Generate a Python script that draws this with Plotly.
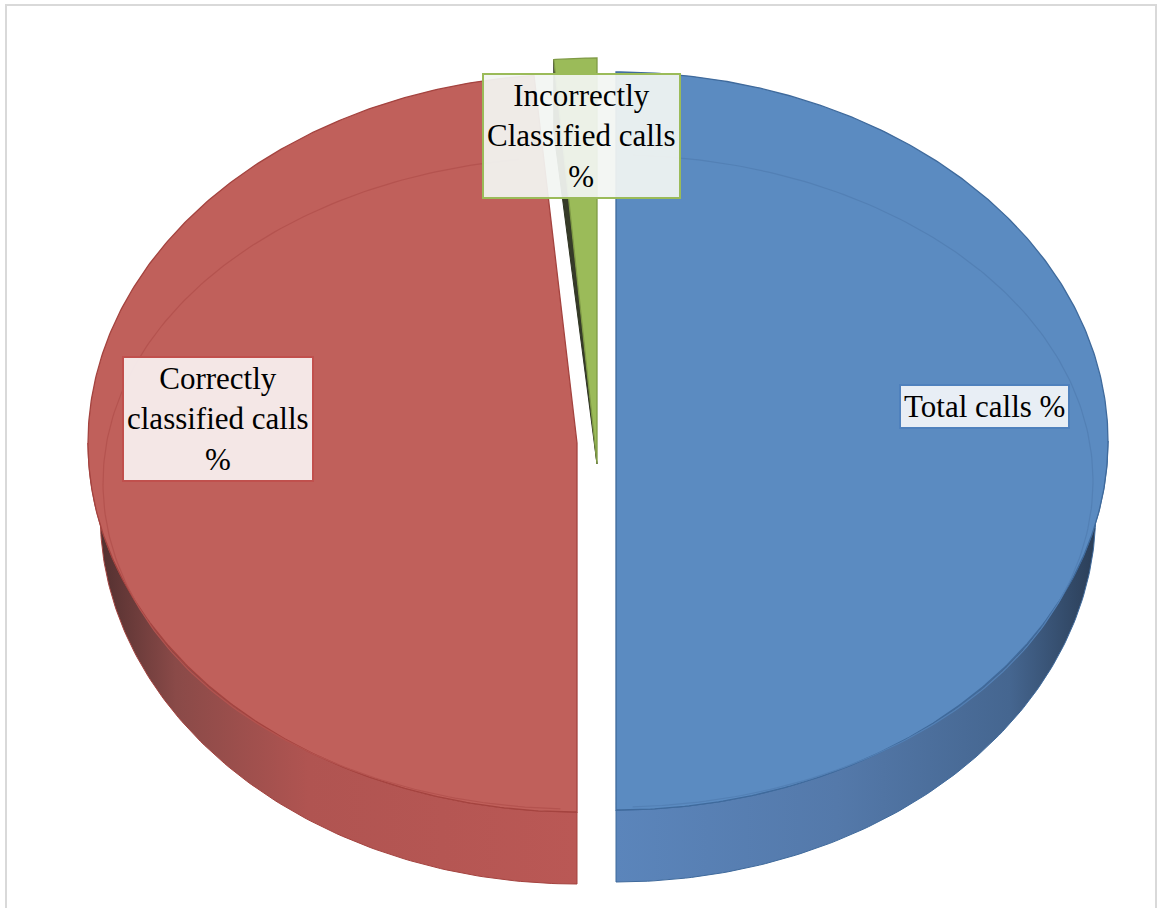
import numpy as np
import plotly.graph_objects as go

# ---- data ----
labels = ["Total calls %", "Correctly classified calls %", "Incorrectly Classified calls %"]
label_text = ["Total calls %", "Correctly<br>classified calls<br>%", "Incorrectly<br>Classified calls<br>%"]
values = [100.0, 97.2, 2.8]

# ---- style (pixel geometry of the tilted pie) ----
W, H = 1158, 908
face_colors = ["#5b8bc1", "#c0605b", "#9bbb59"]
edge_colors = ["#3f6a9c", "#a4433f", "#7f9a45"]
bevel_colors = ["#5380b5", "#b4534f", "#8fae50"]
centers = [(616, 441), (577, 443), (597, 464)]
radii = [(492, 369), (489, 369), (492, 406)]
depth = 72
bottom_shrink = 0.975
wall_scales = [
    [[0, "#5b85bb"], [0.45, "#5479aa"], [0.8, "#456690"], [1, "#27384f"]],
    [[0, "#4a2c2c"], [0.18, "#8a4a48"], [0.45, "#b05451"], [1, "#ba5855"]],
    None,
]
label_pos = [(984, 406), (218, 419), (581, 136)]
label_border = ["#4f81bd", "#c0504d", "#9bbb59"]
label_bg = ["rgba(240,243,248,0.95)", "rgba(247,238,238,0.95)", "rgba(242,245,242,0.93)"]

total = sum(values)
cum = np.concatenate([[0], np.cumsum(values)]) / total * 360.0


def rim(cx, cy, rx, ry, th, dy=0.0):
    t = np.radians(th)
    return cx + rx * np.sin(t), cy - ry * np.cos(t) + dy


fig = go.Figure()

# side walls (front half, 90..270 deg)
for i, lab in enumerate(labels):
    a, b = cum[i], cum[i + 1]
    lo, hi = max(a, 90), min(b, 270)
    if hi <= lo or wall_scales[i] is None:
        continue
    cx, cy = centers[i]
    rx, ry = radii[i]
    th = np.linspace(lo, hi, 120)
    xt, yt = rim(cx, cy, rx, ry, th)
    xb, yb = rim(cx, cy, rx * bottom_shrink, ry, th[::-1], depth)
    xs = np.concatenate([xt, xb, xt[:1]])
    ys = np.concatenate([yt, yb, yt[:1]])
    fig.add_trace(go.Scatter(
        x=xs, y=ys, mode="lines", fill="toself",
        line=dict(color=edge_colors[i], width=1),
        fillgradient=dict(type="horizontal", colorscale=wall_scales[i]),
        hoverinfo="skip", showlegend=False))

# cut face of the small exploded slice
i = 2
cx, cy = centers[i]
rx, ry = radii[i]
x1, y1 = rim(cx, cy, rx, ry, cum[i])
fig.add_trace(go.Scatter(
    x=[cx, x1, x1, cx], y=[cy, y1, y1 + depth, cy], mode="lines", fill="toself",
    fillcolor="#363b28", line=dict(color="#2e3322", width=1),
    hoverinfo="skip", showlegend=False))

# top faces
for i, lab in enumerate(labels):
    a, b = cum[i], cum[i + 1]
    cx, cy = centers[i]
    rx, ry = radii[i]
    th = np.linspace(a, b, max(20, int((b - a) * 2)))
    xr, yr = rim(cx, cy, rx, ry, th)
    xs = np.concatenate([[cx], xr, [cx]])
    ys = np.concatenate([[cy], yr, [cy]])
    fig.add_trace(go.Scatter(
        x=xs, y=ys, mode="lines", fill="toself", fillcolor=face_colors[i],
        line=dict(color=edge_colors[i], width=1.3), name=lab,
        hoverinfo="name", showlegend=False))
    # bevel line
    if b - a > 30:
        th2 = np.linspace(a + 2, b - 2, 200)
        xi, yi = rim(cx, cy + 40, rx - 15, ry - 43, th2)
        fig.add_trace(go.Scatter(
            x=xi, y=yi, mode="lines", line=dict(color=bevel_colors[i], width=1.2),
            hoverinfo="skip", showlegend=False))

for i, lab in enumerate(labels):
    fig.add_annotation(
        x=label_pos[i][0], y=label_pos[i][1], xref="x", yref="y",
        text=label_text[i], showarrow=False,
        font=dict(family="Liberation Serif, Times New Roman, serif", size=31, color="#000000"),
        bgcolor=label_bg[i], bordercolor=label_border[i], borderwidth=2,
        borderpad=3, align="center")

fig.add_shape(type="rect", x0=6, y0=5, x1=1156, y1=912, xref="x", yref="y",
              line=dict(color="#d9d9d9", width=2), layer="below")

fig.update_layout(
    width=W, height=H, autosize=False,
    margin=dict(l=0, r=0, t=0, b=0),
    paper_bgcolor="white", plot_bgcolor="white",
    xaxis=dict(range=[0, W], visible=False, fixedrange=True),
    yaxis=dict(range=[H, 0], visible=False, fixedrange=True),
    showlegend=False,
)

fig.write_html("out.html", config={"displayModeBar": False},
               post_script="document.body.style.margin='0';")
